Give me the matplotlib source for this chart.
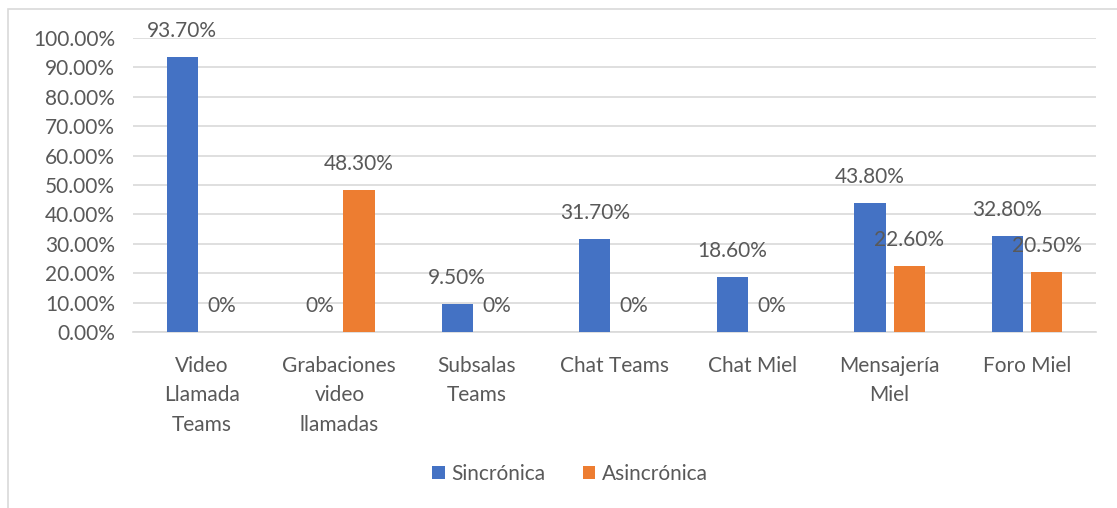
import numpy as np
import matplotlib
matplotlib.use('Agg')
import matplotlib.pyplot as plt
from matplotlib.patches import Rectangle
from matplotlib.ticker import PercentFormatter

# data
categories = ['Video\nLlamada\nTeams', 'Grabaciones\nvideo\nllamadas', 'Subsalas\nTeams',
              'Chat Teams', 'Chat Miel', 'Mensajería\nMiel', 'Foro Miel']
sincronica = [93.7, 0.0, 9.5, 31.7, 18.6, 43.8, 32.8]
asincronica = [0.0, 48.3, 0.0, 0.0, 0.0, 22.6, 20.5]
sinc_labels = ['93.70%', '0%', '9.50%', '31.70%', '18.60%', '43.80%', '32.80%']
asinc_labels = ['0%', '48.30%', '0%', '0%', '0%', '22.60%', '20.50%']

plt.rcParams['font.family'] = ['Lato', 'DejaVu Sans']
text_color = '#595959'
fs = 15

fig = plt.figure(figsize=(11.17, 5.08), dpi=100)
ax = fig.add_axes([133 / 1117, 1 - 332 / 508, (1096 - 133) / 1117, (332 - 38) / 508])

x = np.arange(len(categories))
width = 0.226
off = 0.143
b1 = ax.bar(x - off, sincronica, width, color='#4472C4', label='Sincrónica', zorder=3)
b2 = ax.bar(x + off, asincronica, width, color='#ED7D31', label='Asincrónica', zorder=3)

# value labels above each bar, including the zero ones
for bars, labels in [(b1, sinc_labels), (b2, asinc_labels)]:
    for rect, lab in zip(bars, labels):
        ax.annotate(lab, (rect.get_x() + rect.get_width() / 2, rect.get_height()),
                    xytext=(0, 26), textcoords='offset pixels', ha='center', va='center',
                    fontsize=fs, color=text_color, zorder=4)

ax.set_xlim(-0.5, len(categories) - 0.5)
ax.set_ylim(0, 100)
ax.set_yticks(np.arange(0, 101, 10))
ax.yaxis.set_major_formatter(PercentFormatter(decimals=2))
ax.grid(axis='y', color='#D9D9D9', linewidth=1.2, zorder=0)
ax.set_xticks(x)
ax.set_xticklabels(categories, fontsize=fs, color=text_color, linespacing=1.6)
ax.tick_params(axis='y', labelsize=fs, labelcolor=text_color, length=0, pad=13)
ax.tick_params(axis='x', length=0, pad=17)
for side in ['top', 'right', 'left']:
    ax.spines[side].set_visible(False)
ax.spines['bottom'].set_color('#D9D9D9')
ax.spines['bottom'].set_linewidth(1.2)

leg = fig.legend(loc='center', bbox_to_anchor=(570 / 1117, 1 - 474 / 508), ncol=2,
                 frameon=False, fontsize=fs, handlelength=0.6, handleheight=0.6,
                 handletextpad=0.3, columnspacing=1.8)
for t in leg.get_texts():
    t.set_color(text_color)

# chart border
fig.patches.append(Rectangle((8 / 1117, -0.05), 1.2, 1 - 9 / 508 + 0.05, transform=fig.transFigure,
                             fill=False, edgecolor='#D9D9D9', linewidth=1.2))

fig.savefig('out.png', dpi=100)
